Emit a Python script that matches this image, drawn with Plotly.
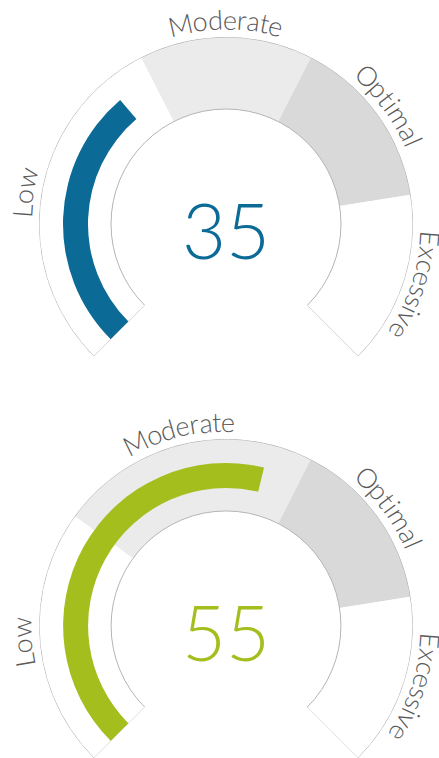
import math
import plotly.graph_objects as go

# ---------------- data ----------------
categories = ["Low", "Moderate", "Optimal", "Excessive"]
band_colors = ["#ffffff", "#ebebeb", "#d9d9d9", "#ffffff"]

gauge1_value = 35
gauge1_bounds = [0, 40, 60, 80, 100]
gauge1_color = "#0b6a96"

gauge2_value = 55
gauge2_bounds = [0, 30, 60, 80, 100]
gauge2_color = "#a4be1d"

scale_max = 100

# ---------------- geometry / style ----------------
W, H = 439, 758
SPAN = 270.0          # degrees of the gauge arc
START = 225.0         # screen angle (deg, ccw from +x) of value 0
R_OUT_PX = 187.0
R_IN = 115.0 / 187.0
BAR_IN = 138.0 / 187.0
BAR_OUT = 163.0 / 187.0
TEXT_R_PX = 205.0
LABEL_SIZE = 27
NUM_SIZE = 76
FONT = "Lato"

gauges = [
    dict(value=gauge1_value, bounds=gauge1_bounds, color=gauge1_color, cx=226.0, cy=224.0),
    dict(value=gauge2_value, bounds=gauge2_bounds, color=gauge2_color, cx=226.0, cy=626.0),
]

# approximate glyph advance widths (em) for label layout along the arc
CHAR_W = {
    "L": 0.50, "o": 0.57, "w": 0.78, "M": 0.88, "d": 0.57, "e": 0.52, "r": 0.37,
    "a": 0.50, "t": 0.35, "O": 0.76, "p": 0.57, "i": 0.24, "m": 0.85, "l": 0.24,
    "E": 0.56, "x": 0.51, "c": 0.47, "s": 0.42, "v": 0.52,
}


def v2theta(v):
    return v * SPAN / scale_max


fig = go.Figure()
annotations = []

for gi, g in enumerate(gauges):
    pid = "polar" if gi == 0 else f"polar{gi + 1}"
    sub = pid
    b = g["bounds"]
    lows, highs = b[:-1], b[1:]
    # coloured bands
    fig.add_trace(go.Barpolar(
        subplot=sub,
        theta=[v2theta((lo + hi) / 2) for lo, hi in zip(lows, highs)],
        width=[v2theta(hi - lo) for lo, hi in zip(lows, highs)],
        r=[1 - R_IN] * len(lows),
        base=[R_IN] * len(lows),
        marker=dict(color=band_colors, line=dict(width=0)),
        hoverinfo="skip", showlegend=False,
    ))
    # outline of whole band
    fig.add_trace(go.Barpolar(
        subplot=sub,
        theta=[v2theta(scale_max / 2)], width=[v2theta(scale_max)],
        r=[1 - R_IN], base=[R_IN],
        marker=dict(color="rgba(0,0,0,0)", line=dict(width=1, color="#b4b4b4")),
        hoverinfo="skip", showlegend=False,
    ))
    # value bar
    fig.add_trace(go.Barpolar(
        subplot=sub,
        theta=[v2theta(g["value"] / 2)], width=[v2theta(g["value"])],
        r=[BAR_OUT - BAR_IN], base=[BAR_IN],
        marker=dict(color=g["color"], line=dict(width=0)),
        hoverinfo="skip", showlegend=False,
    ))

    # polar layout (sector bbox: x in [-R, R], y in [-0.707R, R])
    x0 = g["cx"] - R_OUT_PX
    x1 = g["cx"] + R_OUT_PX
    ytop = g["cy"] - R_OUT_PX
    ybot = g["cy"] + R_OUT_PX * math.sin(math.radians(45))
    fig.update_layout(**{pid: dict(
        domain=dict(x=[x0 / W, x1 / W], y=[max(0, 1 - ybot / H), 1 - ytop / H]),
        sector=[START - SPAN, START],
        hole=0,
        bgcolor="rgba(0,0,0,0)",
        radialaxis=dict(visible=False, range=[0, 1]),
        angularaxis=dict(visible=False, rotation=START, direction="clockwise",
                         thetaunit="degrees"),
        barmode="overlay",
    )})

    # centre number
    annotations.append(dict(
        x=g["cx"] / W, y=1 - (g["cy"] + 5) / H, xref="paper", yref="paper",
        text=str(g["value"]), showarrow=False, xanchor="center", yanchor="middle",
        font=dict(family=FONT, size=NUM_SIZE, color=g["color"], weight=300),
    ))

    # curved labels, one glyph at a time
    for cat, lo, hi in zip(categories, lows, highs):
        mid = START - v2theta((lo + hi) / 2)          # screen angle, degrees
        widths = [CHAR_W.get(ch, 0.5) * LABEL_SIZE for ch in cat]
        total = sum(widths)
        start_ang = math.radians(mid) + (total / 2) / TEXT_R_PX
        cum = 0.0
        for ch, w in zip(cat, widths):
            a = start_ang - (cum + w / 2) / TEXT_R_PX
            cum += w
            px = g["cx"] + TEXT_R_PX * math.cos(a)
            py = g["cy"] - TEXT_R_PX * math.sin(a)
            annotations.append(dict(
                x=px / W, y=1 - py / H, xref="paper", yref="paper",
                text=ch, showarrow=False, xanchor="center", yanchor="middle",
                textangle=90 - math.degrees(a),
                font=dict(family=FONT, size=LABEL_SIZE, color="#5a5a5a", weight=300),
            ))

fig.update_layout(
    width=W, height=H,
    margin=dict(l=0, r=0, t=0, b=0),
    paper_bgcolor="white", plot_bgcolor="white",
    showlegend=False,
    annotations=annotations,
)

fig.write_html("out.html", config={"displayModeBar": False},
               post_script="document.body.style.margin='0';document.body.style.overflow='hidden';")
